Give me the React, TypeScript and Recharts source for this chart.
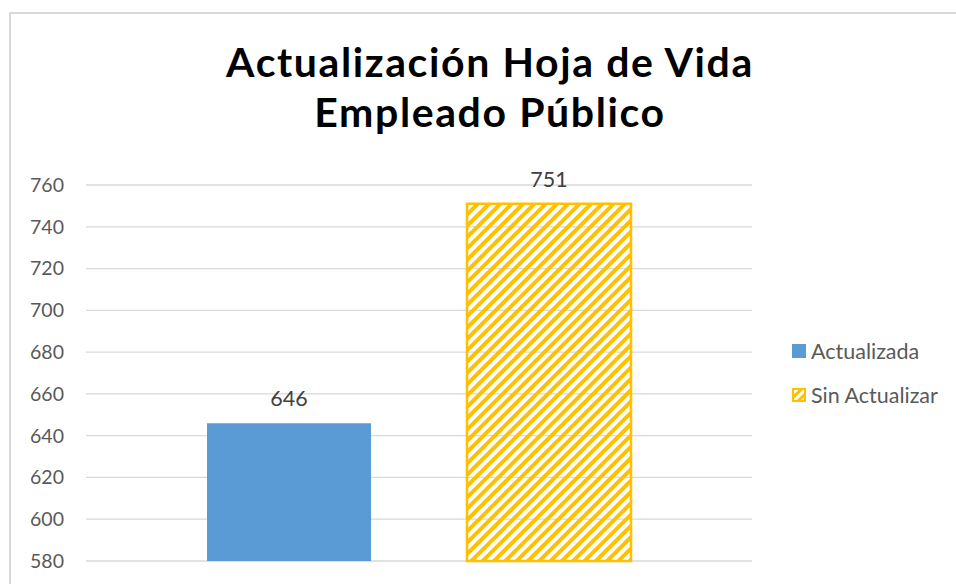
import React from 'react';
import { BarChart, Bar, XAxis, YAxis, CartesianGrid, LabelList } from 'recharts';

const categories = ['Empleado Público'];
const seriesNames = ['Actualizada', 'Sin Actualizar'];
const actualizadaValues = [646];
const sinActualizarValues = [751];
const yTicks = [580, 600, 620, 640, 660, 680, 700, 720, 740, 760];
const titleLines = ['Actualización Hoja de Vida', 'Empleado Público'];

const BLUE = '#5B9BD5';
const GOLD = '#FFC000';
const FONT = 'Lato, "Open Sans", sans-serif';

const data = categories.map((c, i) => ({
  category: c,
  [seriesNames[0]]: actualizadaValues[i],
  [seriesNames[1]]: sinActualizarValues[i],
}));

const Swatch = ({ hatched }: { hatched: boolean }) => (
  <svg width={14} height={14} style={{ display: 'block' }}>
    <defs>
      <pattern id="hatchLegend" patternUnits="userSpaceOnUse" width={6} height={6} patternTransform="rotate(45)">
        <rect x={0} y={0} width={3} height={6} fill={GOLD} />
      </pattern>
    </defs>
    {hatched ? (
      <rect x={1} y={1} width={12} height={12} fill="url(#hatchLegend)" stroke={GOLD} strokeWidth={2} />
    ) : (
      <rect x={0} y={0} width={14} height={14} fill={BLUE} />
    )}
  </svg>
);

export default function App() {
  return (
    <div style={{ position: 'absolute', left: 0, top: 0, width: 956, height: 584, background: '#fff', overflow: 'hidden' }}>
      <div
        style={{
          position: 'absolute',
          left: 9,
          top: 12,
          width: 1000,
          height: 1000,
          borderLeft: '2.5px solid #D9D9D9',
          borderTop: '2.5px solid #D9D9D9',
        }}
      />
      <div
        style={{
          position: 'absolute',
          left: 0,
          width: 980,
          top: 37,
          textAlign: 'center',
          fontFamily: FONT,
          fontWeight: 700,
          fontSize: 41,
          letterSpacing: 1.6,
          lineHeight: '50px',
          color: '#000',
        }}
      >
        {titleLines.map((t) => (
          <div key={t}>{t}</div>
        ))}
      </div>
      <div style={{ position: 'absolute', left: 0, top: 0 }}>
        <BarChart
          width={956}
          height={584}
          data={data}
          margin={{ top: 185, right: 204, bottom: 23, left: 0 }}
          barGap={96}
          barCategoryGap={121}
        >
          <defs>
            <pattern id="hatchBar" patternUnits="userSpaceOnUse" width={8} height={8} patternTransform="rotate(45)">
              <rect x={0} y={0} width={4} height={8} fill={GOLD} />
            </pattern>
          </defs>
          <CartesianGrid vertical={false} stroke="#D9D9D9" strokeWidth={1.3} />
          <XAxis dataKey="category" hide />
          <YAxis
            width={86}
            domain={[580, 760]}
            ticks={yTicks}
            interval={0}
            axisLine={false}
            tickLine={false}
            tickSize={0}
            tickMargin={22}
            tick={{ fill: '#595959', fontSize: 19.5, fontFamily: FONT }}
          />
          <Bar dataKey={seriesNames[0]} fill={BLUE} barSize={164} isAnimationActive={false}>
            <LabelList dataKey={seriesNames[0]} position="top" offset={17} fill="#404040" fontSize={21.5} fontFamily={FONT} />
          </Bar>
          <Bar
            dataKey={seriesNames[1]}
            fill="url(#hatchBar)"
            stroke={GOLD}
            strokeWidth={2.5}
            barSize={164}
            isAnimationActive={false}
          >
            <LabelList dataKey={seriesNames[1]} position="top" offset={17} fill="#404040" fontSize={21.5} fontFamily={FONT} />
          </Bar>
        </BarChart>
      </div>
      <div style={{ position: 'absolute', left: 792, top: 339, fontFamily: FONT, fontSize: 21.5, color: '#595959' }}>
        {seriesNames.map((n, i) => (
          <div key={n} style={{ display: 'flex', alignItems: 'center', height: 24, marginBottom: 20 }}>
            <Swatch hatched={i === 1} />
            <span style={{ marginLeft: 5 }}>{n}</span>
          </div>
        ))}
      </div>
    </div>
  );
}
